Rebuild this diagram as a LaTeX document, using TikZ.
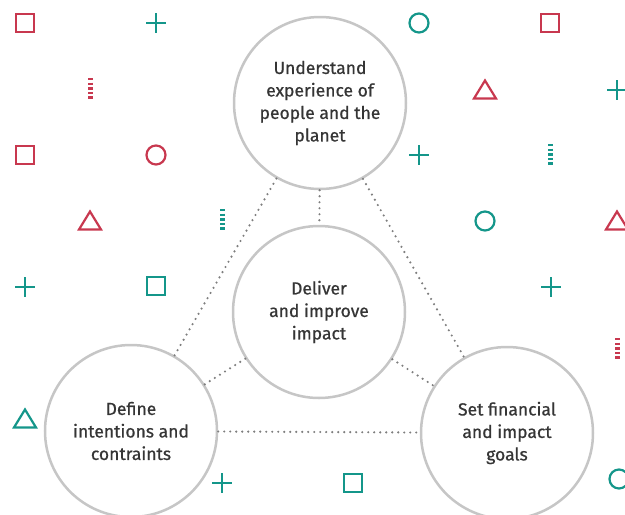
\documentclass[tikz,border=0pt]{standalone}
\usepackage{fontspec}
\setmainfont{Fira Sans}
\newfontfamily\stagefont{Fira Sans}[FakeBold=0.7]
\definecolor{markred}{HTML}{C8384F}
\definecolor{markteal}{HTML}{14968A}
\definecolor{ringgray}{HTML}{C6C6C6}
\definecolor{dotgray}{HTML}{7E7E7E}
\definecolor{textgray}{HTML}{353535}
\tikzset{
  stage/.style={circle, draw=ringgray, line width=2.5pt, fill=white, minimum size=172pt,
    inner sep=0pt, align=center, text=textgray, font=\stagefont\fontsize{17.5}{22.5}\selectfont},
  link/.style={dotgray, line width=2.4pt, line cap=round, dash pattern=on 0pt off 6pt},
  glyph/.style={line width=2.2pt},
  tickbar/.style={line width=5pt, dash pattern=on 2.4pt off 2.2pt}
}
\begin{document}
\begin{tikzpicture}[x=1pt, y=-1pt]
    \useasboundingbox (0, 0) rectangle (625, 515);
    \foreach \x/\y in {25/23, 25/155, 550/23} {
      \draw [glyph, markred] (\x-9, \y-9) rectangle (\x+9, \y+9);
    }
    \foreach \x/\y in {156/286, 353/483} {
      \draw [glyph, markteal] (\x-9, \y-9) rectangle (\x+9, \y+9);
    }
    \draw [glyph, markred] (156, 155) circle (9.5);
    \foreach \x/\y in {419/23, 485/221, 619/479} {
      \draw [glyph, markteal] (\x, \y) circle (9.5);
    }
    \foreach \x/\y in {90/221, 485/90, 617/221} {
      \draw [glyph, markred, line join=miter] (\x-11, \y+8.5) -- (\x+11, \y+8.5) -- (\x, \y-9.5) -- cycle;
    }
    \draw [glyph, markteal] (25-11, 419+8.5) -- (25+11, 419+8.5) -- (25, 419-9.5) -- cycle;
    \foreach \x/\y in {156/23, 617/90, 419/155, 25/287, 551/287, 222/483} {
      \draw [glyph, markteal] (\x-10, \y) -- (\x+10, \y) (\x, \y-10) -- (\x, \y+10);
    }
    \foreach \x/\y in {90/78, 617/338} {
      \draw [tickbar, markred] (\x, \y) -- (\x, \y+22);
    }
    \foreach \x/\y in {222/209, 550/144} {
      \draw [tickbar, markteal] (\x, \y) -- (\x, \y+22);
    }

    \node [stage] (understand) at (320, 103) {Understand\\experience of\\people and the\\planet};
    \node [stage] (deliver) at (319, 312) {Deliver\\and improve\\impact};
    \node [stage] (define) at (131, 431) {Define\\intentions and\\contraints};
    \node [stage] (setgoals) at (507, 433) {Set financial\\and impact\\goals};

    \draw [link] (understand) -- (define);
    \draw [link] (understand) -- (setgoals);
    \draw [link] (understand) -- (deliver);
    \draw [link] (deliver) -- (define);
    \draw [link] (deliver) -- (setgoals);
    \draw [link] (define) -- (setgoals);
  \end{tikzpicture}
\end{document}
